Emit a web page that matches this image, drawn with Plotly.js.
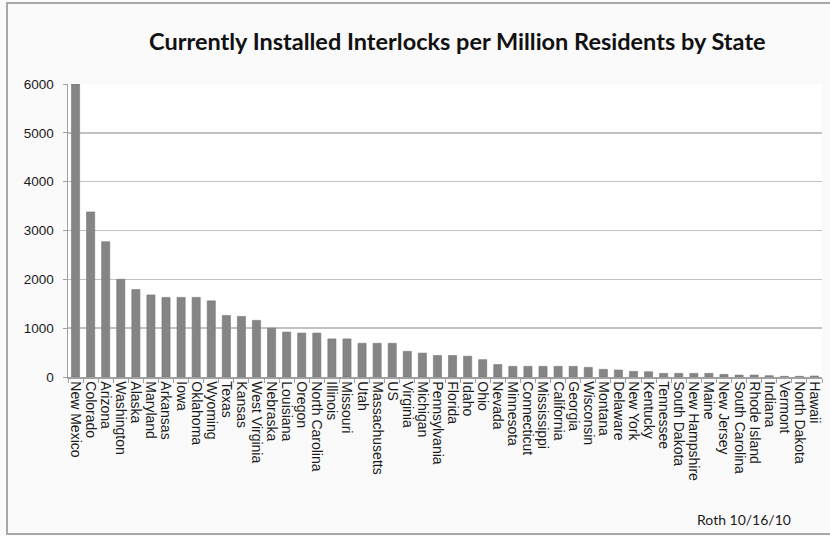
<!DOCTYPE html>
<html>
<head>
<meta charset="utf-8">
<script src="https://cdn.plot.ly/plotly-3.0.1.min.js"></script>
<style>
  html, body { margin: 0; padding: 0; background: #ffffff; }
  #wrap { position: relative; width: 830px; height: 536px; }
  #chart { position: absolute; left: 0; top: 0; width: 830px; height: 536px; }
  #frame { position: absolute; left: 6px; top: 2px; width: 826px; height: 533px;
           border: 2px solid #a8a8a8; box-sizing: border-box; pointer-events: none; }
</style>
</head>
<body>
<div id="wrap">
  <div id="chart"></div>
  <div id="frame"></div>
</div>
<script>
const states = ["New Mexico","Colorado","Arizona","Washington","Alaska","Maryland","Arkansas","Iowa",
  "Oklahoma","Wyoming","Texas","Kansas","West Virginia","Nebraska","Louisiana","Oregon",
  "North Carolina","Illinois","Missouri","Utah","Massachusetts","US","Virginia","Michigan",
  "Pennsylvania","Florida","Idaho","Ohio","Nevada","Minnesota","Connecticut","Mississippi",
  "California","Georgia","Wisconsin","Montana","Delaware","New York","Kentucky","Tennessee",
  "South Dakota","New Hampshire","Maine","New Jersey","South Carolina","Rhode Island","Indiana",
  "Vermont","North Dakota","Hawaii"];
const interlocksPerMillion = [6000,3380,2770,2000,1790,1680,1630,1630,
  1630,1560,1260,1240,1160,1000,920,900,
  900,780,780,690,690,690,525,490,
  440,440,425,355,255,218,218,218,
  218,218,197,156,143,115,108,74,
  74,74,74,54,40,40,27,
  14,14,20];
const yTickVals = [0,1000,2000,3000,4000,5000,6000];
const titleText = "Currently Installed Interlocks per Million Residents by State";
const noteText = "Roth 10/16/10";

const trace = {
  type: "bar",
  x: states,
  y: interlocksPerMillion,
  marker: { color: "#858585", line: { color: "#777777", width: 0.6 } },
  hoverinfo: "x+y"
};

const layout = {
  width: 830, height: 536,
  margin: { l: 68, r: 8, t: 84, b: 159, pad: 0 },
  paper_bgcolor: "#fafafa",
  plot_bgcolor: "#ffffff",
  showlegend: false,
  bargap: 0.46,
  title: {
    text: "<b>" + titleText + "</b>",
    font: { family: "Lato, 'Open Sans', sans-serif", size: 23.5, color: "#111111" },
    x: 0.551, xanchor: "center", xref: "container",
    y: 0.922, yanchor: "middle", yref: "container"
  },
  xaxis: {
    type: "category",
    tickmode: "array",
    tickvals: states,
    ticktext: states,
    tickangle: 90,
    tickfont: { family: "'Liberation Sans', Arial, sans-serif", size: 14, color: "#1a1a1a" },
    ticks: "outside", ticklen: 4, tickcolor: "#a0a0a0", tickwidth: 1,
    tickson: "boundaries",
    showline: true, linecolor: "#a0a0a0", linewidth: 1.5,
    showgrid: false, fixedrange: true
  },
  yaxis: {
    range: [0, 6000],
    tickvals: yTickVals,
    ticktext: yTickVals.map(String),
    tickfont: { family: "'Liberation Sans', Arial, sans-serif", size: 13.5, color: "#1a1a1a" },
    ticks: "outside", ticklen: 4, tickcolor: "#a0a0a0", tickwidth: 1,
    ticklabelstandoff: 6,
    showline: true, linecolor: "#a0a0a0", linewidth: 1.5,
    showgrid: true, gridcolor: "#c2c2c2", gridwidth: 1.5,
    zeroline: false, fixedrange: true
  },
  annotations: [{
    text: noteText,
    xref: "paper", yref: "paper",
    x: 0.961, y: -0.485,
    xanchor: "right", yanchor: "middle",
    showarrow: false,
    font: { family: "Lato, 'Open Sans', sans-serif", size: 14, color: "#1a1a1a" }
  }]
};

Plotly.newPlot("chart", [trace], layout, { displayModeBar: false, staticPlot: true });
</script>
</body>
</html>
